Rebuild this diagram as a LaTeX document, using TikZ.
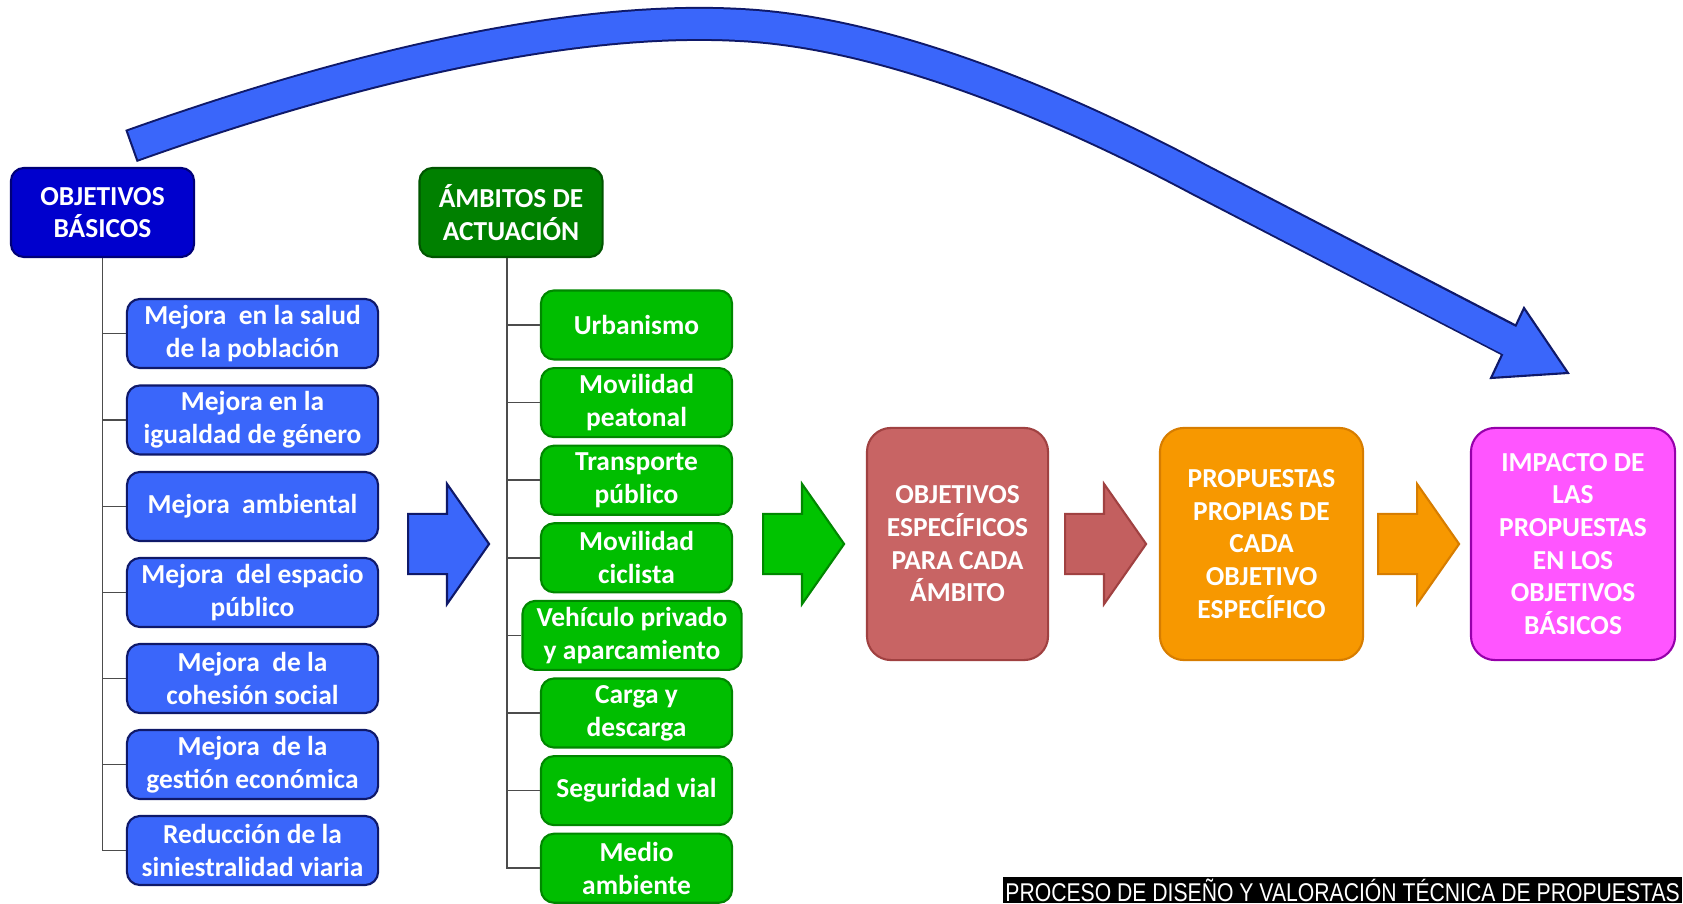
\documentclass[tikz,border=0pt]{standalone}
\usepackage{fontspec}
\setmainfont{Carlito}
\newfontfamily\piefont{Liberation Sans}
\usepackage{graphicx}
\usetikzlibrary{shapes,arrows,positioning}
\definecolor{azulosc}{RGB}{0,0,205}
\definecolor{azulhdrborde}{RGB}{0,0,120}
\definecolor{azulcaja}{RGB}{58,102,250}
\definecolor{azulborde}{RGB}{15,25,105}
\definecolor{verdeosc}{RGB}{0,128,0}
\definecolor{verdehdrborde}{RGB}{0,85,0}
\definecolor{verdecaja}{RGB}{0,190,0}
\definecolor{verdeborde}{RGB}{0,135,0}
\definecolor{verdeflecha}{RGB}{0,195,0}
\definecolor{rojocaja}{RGB}{200,100,100}
\definecolor{rojoborde}{RGB}{160,65,65}
\definecolor{rojoflecha}{RGB}{195,95,95}
\definecolor{naranja}{RGB}{247,152,0}
\definecolor{naranjaborde}{RGB}{215,125,0}
\definecolor{magenta2}{RGB}{255,85,255}
\definecolor{magentaborde}{RGB}{150,0,170}

\begin{document}
\begin{tikzpicture}[x=0.01cm, y=-0.01cm,
    caja/.style={draw, rounded corners=0.13cm, line width=0.6pt, align=center, text=white,
        font=\bfseries\fontsize{7.8}{9.3}\selectfont, inner sep=0pt},
    cabecera/.style={caja, minimum width=1.83cm, minimum height=0.89cm},
    basico/.style={caja, fill=azulcaja, draw=azulborde, minimum width=2.51cm, minimum height=0.69cm},
    ambito/.style={caja, fill=verdecaja, draw=verdeborde, minimum width=1.91cm, minimum height=0.69cm},
    grande/.style={caja, rounded corners=0.24cm, minimum height=2.32cm},
    flecha/.style={single arrow, draw, line width=0.6pt, minimum height=0.81cm, inner xsep=0pt,
        inner ysep=0.29cm, single arrow head extend=0.3cm, single arrow tip angle=110, anchor=tail},
    rama/.style={draw=gray!60!black, line width=0.5pt}]

    \useasboundingbox (0,0) rectangle (1683,904);

    \coordinate (cola) at (131,146);
    \coordinate (punta) at (1509,340);
    \draw[azulborde, line width=0.34cm] (cola) .. controls (330,75) and (560,15) .. (740,25)
        .. controls (880,32) and (1050,100) .. (1200,180) -- (punta);
    \filldraw[fill=azulcaja, draw=azulborde, line width=0.6pt] (1491,378) -- (1524,308) -- (1568,373) -- cycle;
    \draw[azulcaja, line width=0.30cm] (133,145.3) .. controls (330,75) and (560,15) .. (740,25)
        .. controls (880,32) and (1050,100) .. (1200,180) -- (1514,343);

    \node[cabecera, fill=azulosc, draw=azulhdrborde] (objb) at (102.5,212.5) {OBJETIVOS\\BÁSICOS};
    \node[cabecera, fill=verdeosc, draw=verdehdrborde] (ambt) at (511,212.5) {ÁMBITOS DE\\ACTUACIÓN};

    \node[basico] (b1) at (252.5,333.5) {Mejora\ \ en la salud\\de la población};
    \node[basico] (b2) at (252.5,420) {Mejora en la\\igualdad de género};
    \node[basico] (b3) at (252.5,506.5) {Mejora\ \ ambiental};
    \node[basico] (b4) at (252.5,592.5) {Mejora\ \ del espacio\\público};
    \node[basico] (b5) at (252.5,678.5) {Mejora\ \ de la\\cohesión social};
    \node[basico] (b6) at (252.5,764.5) {Mejora\ \ de la\\gestión económica};
    \node[basico] (b7) at (252.5,850.5) {Reducción de la\\siniestralidad viaria};

    \node[ambito] (a1) at (636.5,325) {Urbanismo};
    \node[ambito] (a2) at (636.5,402.6) {Movilidad\\peatonal};
    \node[ambito] (a3) at (636.5,480.2) {Transporte\\público};
    \node[ambito] (a4) at (636.5,557.8) {Movilidad\\ciclista};
    \node[ambito, minimum width=2.19cm] (a5) at (632,635.4) {Vehículo privado\\y aparcamiento};
    \node[ambito] (a6) at (636.5,713) {Carga y\\descarga};
    \node[ambito] (a7) at (636.5,790.6) {Seguridad vial};
    \node[ambito] (a8) at (636.5,868.2) {Medio\\ambiente};

    \draw[rama] (objb.south) |- (b1.west);
    \draw[rama] (objb.south) |- (b2.west);
    \draw[rama] (objb.south) |- (b3.west);
    \draw[rama] (objb.south) |- (b4.west);
    \draw[rama] (objb.south) |- (b5.west);
    \draw[rama] (objb.south) |- (b6.west);
    \draw[rama] (objb.south) |- (b7.west);

    \draw[rama] ([xshift=-0.04cm]ambt.south) |- (a1.west);
    \draw[rama] ([xshift=-0.04cm]ambt.south) |- (a2.west);
    \draw[rama] ([xshift=-0.04cm]ambt.south) |- (a3.west);
    \draw[rama] ([xshift=-0.04cm]ambt.south) |- (a4.west);
    \draw[rama] ([xshift=-0.04cm]ambt.south) |- (a5.west);
    \draw[rama] ([xshift=-0.04cm]ambt.south) |- (a6.west);
    \draw[rama] ([xshift=-0.04cm]ambt.south) |- (a7.west);
    \draw[rama] ([xshift=-0.04cm]ambt.south) |- (a8.west);

    \node[grande, fill=rojocaja, draw=rojoborde, minimum width=1.81cm] (espec) at (957.5,544)
        {OBJETIVOS\\ESPECÍFICOS\\PARA CADA\\ÁMBITO};
    \node[grande, fill=naranja, draw=naranjaborde, minimum width=2.03cm] (prop) at (1261.5,544)
        {PROPUESTAS\\PROPIAS DE\\CADA\\OBJETIVO\\ESPECÍFICO};
    \node[grande, fill=magenta2, draw=magentaborde, minimum width=2.04cm] (impa) at (1573,544)
        {IMPACTO DE\\LAS\\PROPUESTAS\\EN LOS\\OBJETIVOS\\BÁSICOS};

    \node[flecha, fill=azulcaja, draw=azulborde] (f1) at (407,544) {};
    \node[flecha, fill=verdeflecha, draw=verdeborde] (f2) at (762,544) {};
    \node[flecha, fill=rojoflecha, draw=rojoborde] (f3) at (1064,544) {};
    \node[flecha, fill=naranja, draw=naranjaborde] (f4) at (1377,544) {};

    \node[fill=black, text=white, inner xsep=0pt, inner ysep=0.5pt, minimum width=6.79cm, minimum height=0.23cm,
        anchor=south east] (pie) at (1683,904)
        {\resizebox{6.74cm}{\height}{\piefont\fontsize{7.3}{8}\selectfont PROCESO DE DISEÑO Y VALORACIÓN TÉCNICA DE PROPUESTAS}};
\end{tikzpicture}
\end{document}
